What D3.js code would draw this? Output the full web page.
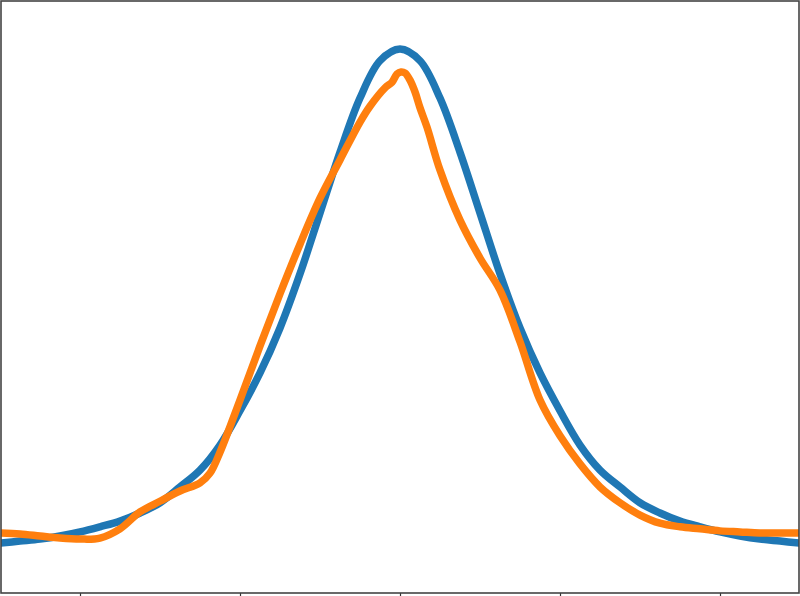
<!DOCTYPE html>
<html>
<head>
<meta charset="utf-8">
<script src="https://cdn.jsdelivr.net/npm/d3@7"></script>
<style>
  html, body { margin: 0; padding: 0; background: #fff; }
  svg { display: block; }
</style>
</head>
<body>
<div id="svgDiv"></div>
<script>
// series
const xTicks = [-4, -2, 0, 2, 4]

// blue curve, x from -5 to 5 in steps of 0.25
const blueX = [-5, -4.75, -4.5, -4.25, -4, -3.75, -3.5, -3.25, -3, -2.75, -2.5, -2.25, -2, -1.75, -1.5, -1.25, -1, -0.75, -0.5, -0.25, 0,
               0.25, 0.5, 0.75, 1, 1.25, 1.5, 1.75, 2, 2.25, 2.5, 2.75, 3, 3.25, 3.5, 3.75, 4, 4.25, 4.5, 4.75, 5]
const blueY = [0.033, 0.037, 0.041, 0.047, 0.055, 0.065, 0.076, 0.092, 0.112, 0.143, 0.176, 0.225, 0.292, 0.366, 0.454, 0.560, 0.679, 0.798, 0.904, 0.977, 1.000,
               0.977, 0.904, 0.798, 0.679, 0.560, 0.454, 0.366, 0.292, 0.225, 0.176, 0.143, 0.112, 0.092, 0.076, 0.065, 0.055, 0.047, 0.041, 0.037, 0.033]

// orange curve
const orangeX = [-5, -4.75, -4.5, -4.25, -4, -3.75, -3.5, -3.25, -3, -2.75, -2.5, -2.375, -2.25, -2, -1.75, -1.5, -1.25, -1, -0.75, -0.5, -0.375, -0.1875, -0.1, -0.0375, 0.0125, 0.0625, 0.125, 0.1875, 0.25, 0.3375, 0.5,
                 0.75, 1, 1.25, 1.5, 1.75, 2, 2.25, 2.5, 2.75, 3, 3.25, 3.5, 3.75, 4, 4.25, 4.5, 4.75, 5]
const orangeY = [0.053, 0.051, 0.047, 0.043, 0.041, 0.043, 0.061, 0.094, 0.115, 0.135, 0.151, 0.170, 0.211, 0.313, 0.419, 0.521, 0.618, 0.708, 0.783, 0.857, 0.888, 0.924, 0.935, 0.951, 0.955, 0.953, 0.939, 0.916, 0.885, 0.847, 0.763,
                 0.665, 0.591, 0.528, 0.427, 0.313, 0.243, 0.188, 0.143, 0.112, 0.088, 0.072, 0.065, 0.061, 0.057, 0.055, 0.053, 0.053, 0.053]

var width = 800,
    height = 596,
    plot = {left: 1, right: 799, top: 1, bottom: 593};

var svg = d3.select('#svgDiv')
    .append('svg')
        .attr('width', width)
        .attr('height', height);

var x = d3.scaleLinear()
    .domain([-5, 5])
    .range([0, 800]);

var y = d3.scaleLinear()
    .domain([0, 1])
    .range([560, 49]);

// clip lines to the axes box
svg.append('clipPath')
    .attr('id', 'plotClip')
  .append('rect')
    .attr('x', plot.left)
    .attr('y', plot.top)
    .attr('width', plot.right - plot.left)
    .attr('height', plot.bottom - plot.top);

var line = d3.line()
    .x(d => x(d[0]))
    .y(d => y(d[1]))
    .curve(d3.curveCatmullRom.alpha(0.5));

var series = [
    {pts: d3.zip(blueX, blueY), color: '#1f77b4'},
    {pts: d3.zip(orangeX, orangeY), color: '#ff7f0e'}
]

svg.append('g')
    .attr('clip-path', 'url(#plotClip)')
    .selectAll('path')
    .data(series)
    .join('path')
    .attr('d', d => line(d.pts))
    .style('fill', 'none')
    .style('stroke', d => d.color)
    .style('stroke-width', 7.5)
    .style('stroke-linejoin', 'round')
    .style('stroke-linecap', 'round');

// bottom axis ticks, no labels
svg.append('g')
    .attr('transform', 'translate(0,' + plot.bottom + ')')
    .call(d3.axisBottom(x).tickValues(xTicks).tickSize(4).tickFormat(''))
    .call(g => g.select('.domain').remove())
    .call(g => g.selectAll('line').style('stroke', '#333').style('stroke-width', 1.2));

// frame
svg.append('rect')
    .attr('x', plot.left)
    .attr('y', plot.top)
    .attr('width', plot.right - plot.left)
    .attr('height', plot.bottom - plot.top)
    .style('fill', 'none')
    .style('stroke', '#444')
    .style('stroke-width', 1.6);
</script>
</body>
</html>
